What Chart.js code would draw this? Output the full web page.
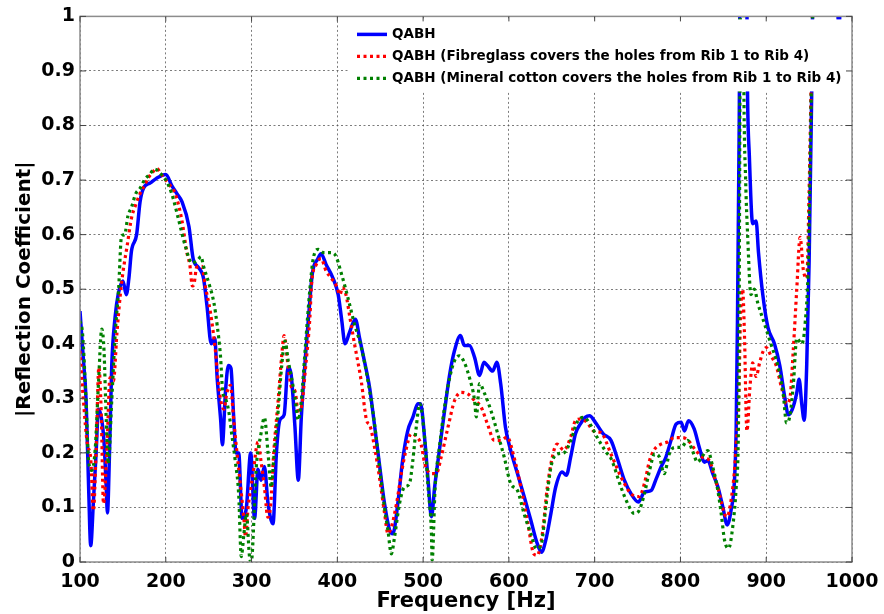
<!DOCTYPE html>
<html>
<head>
<meta charset="utf-8">
<script src="https://cdn.jsdelivr.net/npm/chart.js@4.4.1/dist/chart.umd.min.js"></script>
<style>
  html, body { margin: 0; padding: 0; background: #fff; }
  #wrap { width: 884px; height: 614px; }
</style>
</head>
<body>
<div id="wrap"><canvas id="grafico" width="884" height="614"></canvas></div>
<script>
// frequency ticks and reflection coefficient ticks
const xTicks = [100, 200, 300, 400, 500, 600, 700, 800, 900, 1000];
const yTicks = [0, 0.1, 0.2, 0.3, 0.4, 0.5, 0.6, 0.7, 0.8, 0.9, 1];

const etiquetas = [
  'QABH',
  'QABH (Fibreglass covers the holes from Rib 1 to Rib 4)',
  'QABH (Mineral cotton covers the holes from Rib 1 to Rib 4)'
];

// QABH (solid blue)
const qabhFreq = [100, 104, 107, 110, 112.5, 115.6, 118.8, 121.5, 125.4, 128, 130.5, 132, 134.4, 137, 141, 144.5, 150, 154, 157, 160, 166, 170, 174, 182, 189, 200, 207, 213, 219, 227, 232, 238, 244, 248, 253, 257, 260, 264, 266, 269.5, 273, 276, 279, 282, 285, 289, 294, 299, 303.5, 307.5, 311, 315, 319, 325, 329, 333, 338, 342.5, 346, 350.5, 354.5, 358, 363, 366, 371, 377, 381, 387, 395, 401, 405, 409, 414, 421, 426, 432, 437.6, 443.4, 449, 455, 461, 464.7, 470.5, 476, 482, 488, 494, 497, 502, 505.8, 509.7, 513.5, 519, 525, 531, 536.7, 543.6, 548, 554, 560, 565.8, 571, 575, 581, 586, 590.5, 596, 602, 610, 617.8, 625.5, 633, 638, 643, 649, 654.5, 662, 667, 672, 677.6, 683.4, 689, 694, 700.8, 710, 719, 727, 734.6, 742.4, 751, 758, 765.8, 771.6, 777.4, 783, 789, 795, 800.8, 804.7, 809.3, 816, 822, 828, 831.9, 837.7, 843.6, 849.4, 854.5, 859, 863, 865, 866.5, 868.5, 870.5, 876, 878.2, 880.3, 884.2, 888.2, 891, 896, 902, 909.6, 915.8, 921.8, 925.7, 930.4, 935.6, 938.3, 941.4, 944.3, 947.2, 950, 953.4, 956, 975, 985, 990, 1000];
const qabhVal = [0.46, 0.37, 0.30, 0.14, 0.03, 0.11, 0.20, 0.28, 0.26, 0.22, 0.14, 0.09, 0.20, 0.36, 0.45, 0.49, 0.515, 0.49, 0.52, 0.57, 0.60, 0.66, 0.685, 0.695, 0.703, 0.71, 0.69, 0.675, 0.66, 0.615, 0.555, 0.54, 0.52, 0.47, 0.40, 0.41, 0.335, 0.26, 0.215, 0.31, 0.36, 0.355, 0.27, 0.20, 0.20, 0.08, 0.10, 0.20, 0.08, 0.17, 0.15, 0.175, 0.11, 0.07, 0.20, 0.26, 0.27, 0.357, 0.345, 0.25, 0.15, 0.265, 0.38, 0.44, 0.53, 0.555, 0.565, 0.545, 0.52, 0.49, 0.445, 0.40, 0.42, 0.445, 0.41, 0.365, 0.32, 0.25, 0.18, 0.107, 0.058, 0.052, 0.107, 0.185, 0.24, 0.265, 0.29, 0.29, 0.223, 0.15, 0.083, 0.138, 0.205, 0.277, 0.344, 0.388, 0.415, 0.397, 0.397, 0.375, 0.342, 0.366, 0.36, 0.35, 0.366, 0.326, 0.247, 0.205, 0.162, 0.12, 0.077, 0.034, 0.018, 0.04, 0.089, 0.137, 0.165, 0.159, 0.192, 0.235, 0.253, 0.265, 0.268, 0.256, 0.235, 0.223, 0.187, 0.15, 0.125, 0.11, 0.128, 0.131, 0.152, 0.174, 0.192, 0.223, 0.253, 0.256, 0.24, 0.259, 0.244, 0.21, 0.183, 0.186, 0.162, 0.138, 0.101, 0.068, 0.095, 0.15, 0.248, 0.445, 0.8, 1.3, 1.3, 0.86, 0.745, 0.62, 0.625, 0.567, 0.49, 0.43, 0.40, 0.36, 0.30, 0.27, 0.28, 0.31, 0.335, 0.29, 0.26, 0.36, 0.55, 0.9, 1.3, 1.4, 0.98, 1.4, 1.5];

// Fibreglass (red dotted)
const fibraFreq = [100, 104, 108.6, 112.5, 115.6, 118.8, 122, 124.7, 127.4, 131.3, 135, 139, 143, 147, 150, 155, 160, 165, 170, 175, 180, 185, 189.5, 195, 200, 205, 211, 218.7, 224.6, 228, 231, 233, 236, 242, 246, 252, 258, 260, 263.7, 267.6, 271.5, 275.4, 279, 283, 287, 291, 293, 296, 301.6, 307.5, 311, 315, 319, 322, 326, 331, 335, 338, 342.7, 346.6, 350.5, 354.5, 358, 363, 368, 370, 375.6, 381, 387, 393, 399, 403, 406, 410, 415, 420, 428, 434, 438, 444, 449.6, 455, 459, 463, 469, 474.6, 480, 486, 492, 497.7, 502, 509.7, 515.4, 521, 529, 536.7, 544.4, 552, 560, 567.6, 575, 583, 590.5, 598, 606, 614, 621.6, 629, 633, 639, 644.8, 650.6, 656, 664, 672, 677.6, 683.4, 691, 699, 707.4, 719, 730.7, 742.4, 752, 758, 764, 770, 777.4, 785, 793, 802.7, 810.5, 818, 826, 833.8, 839.6, 845.5, 851, 854.5, 859, 863, 865, 868, 870, 872.5, 874.5, 877.5, 881, 884.2, 888.2, 892.3, 896.1, 900, 905.8, 911.6, 917.8, 923.7, 927.6, 931.6, 935.6, 939.5, 943.3, 947.2, 950, 952.6, 956, 1000];
const fibraVal = [0.387, 0.296, 0.216, 0.19, 0.094, 0.204, 0.357, 0.277, 0.107, 0.204, 0.338, 0.332, 0.418, 0.49, 0.53, 0.58, 0.63, 0.655, 0.675, 0.69, 0.705, 0.715, 0.721, 0.71, 0.70, 0.69, 0.675, 0.627, 0.567, 0.545, 0.506, 0.51, 0.54, 0.542, 0.506, 0.458, 0.385, 0.35, 0.30, 0.28, 0.312, 0.324, 0.264, 0.20, 0.142, 0.08, 0.046, 0.10, 0.16, 0.22, 0.185, 0.137, 0.082, 0.10, 0.204, 0.296, 0.375, 0.415, 0.357, 0.32, 0.314, 0.277, 0.283, 0.357, 0.448, 0.51, 0.546, 0.556, 0.533, 0.52, 0.506, 0.49, 0.503, 0.49, 0.445, 0.40, 0.33, 0.26, 0.25, 0.205, 0.15, 0.09, 0.052, 0.064, 0.107, 0.162, 0.205, 0.235, 0.23, 0.215, 0.18, 0.162, 0.162, 0.192, 0.247, 0.296, 0.311, 0.308, 0.296, 0.284, 0.253, 0.223, 0.223, 0.229, 0.192, 0.137, 0.076, 0.015, 0.012, 0.052, 0.137, 0.192, 0.216, 0.205, 0.229, 0.259, 0.262, 0.256, 0.24, 0.237, 0.198, 0.156, 0.125, 0.12, 0.144, 0.186, 0.207, 0.216, 0.22, 0.228, 0.228, 0.22, 0.204, 0.192, 0.186, 0.156, 0.125, 0.089, 0.083, 0.113, 0.168, 0.217, 0.3, 0.45, 0.5, 0.424, 0.24, 0.32, 0.365, 0.34, 0.365, 0.385, 0.393, 0.377, 0.36, 0.32, 0.29, 0.30, 0.39, 0.5, 0.595, 0.535, 0.52, 0.68, 0.9, 1.2, 1.5];

// Mineral cotton (green dotted)
const mineralFreq = [100, 103, 107, 110, 113.7, 117.6, 121.5, 125.4, 128, 130.5, 133, 137, 141, 145, 148.4, 152, 156, 160, 165, 170, 175, 181, 187, 195, 200, 207, 215, 222.6, 230.5, 238, 241, 244, 250, 256, 260, 263.7, 266.4, 269.5, 273.4, 277, 281, 285, 288, 291, 294, 297.6, 299.6, 305.5, 311, 315, 319, 323, 326, 331, 335, 339, 342.7, 346.6, 350.5, 354.5, 358, 363, 368, 372, 378, 384, 391.5, 397, 405, 412.4, 420, 428, 435.7, 443.4, 449.2, 455, 459, 463, 466.7, 472.5, 478, 484, 488, 492, 496, 502, 505.8, 509.7, 510.5, 514, 519, 525, 531, 536.7, 542.5, 548, 554, 560, 562, 565.8, 571.6, 579, 587, 594.6, 602, 610, 617.8, 625.5, 632.4, 638, 643, 649, 656.6, 664, 672, 679.5, 687, 694.6, 702.7, 714, 719, 730.7, 738.5, 746, 752, 758, 764, 770, 775.6, 781, 787, 793, 800.8, 808.5, 814, 820, 826, 831.9, 837.7, 843.6, 847.5, 851.4, 856, 861, 865, 868, 869, 870.5, 872.5, 874, 876, 878.3, 882.2, 886.2, 890.1, 898.1, 905.8, 913.5, 919.7, 923.7, 927.6, 931.6, 935.6, 941.4, 945.3, 949.1, 953, 957, 1000];
const mineralVal = [0.442, 0.418, 0.296, 0.186, 0.168, 0.204, 0.326, 0.427, 0.387, 0.265, 0.18, 0.296, 0.418, 0.50, 0.597, 0.60, 0.635, 0.65, 0.675, 0.685, 0.70, 0.71, 0.72, 0.71, 0.70, 0.675, 0.627, 0.58, 0.548, 0.555, 0.56, 0.542, 0.512, 0.476, 0.433, 0.379, 0.312, 0.30, 0.276, 0.233, 0.185, 0.124, 0.01, 0.05, 0.088, 0.01, 0.0, 0.174, 0.235, 0.265, 0.204, 0.137, 0.192, 0.277, 0.357, 0.405, 0.369, 0.338, 0.302, 0.26, 0.296, 0.40, 0.50, 0.557, 0.573, 0.567, 0.567, 0.564, 0.527, 0.484, 0.436, 0.393, 0.332, 0.253, 0.174, 0.10, 0.058, 0.015, 0.046, 0.107, 0.137, 0.143, 0.186, 0.247, 0.29, 0.223, 0.137, 0.052, 0.003, 0.137, 0.21, 0.284, 0.338, 0.369, 0.378, 0.366, 0.338, 0.296, 0.266, 0.327, 0.309, 0.278, 0.235, 0.192, 0.144, 0.131, 0.088, 0.052, 0.024, 0.034, 0.10, 0.174, 0.198, 0.20, 0.222, 0.256, 0.265, 0.253, 0.229, 0.20, 0.19, 0.137, 0.107, 0.089, 0.095, 0.125, 0.168, 0.198, 0.192, 0.162, 0.198, 0.21, 0.21, 0.223, 0.204, 0.183, 0.195, 0.204, 0.174, 0.131, 0.089, 0.04, 0.025, 0.065, 0.137, 0.3, 0.7, 1.3, 1.3, 0.86, 0.7, 0.6, 0.49, 0.50, 0.475, 0.436, 0.398, 0.36, 0.31, 0.255, 0.268, 0.325, 0.41, 0.40, 0.436, 0.55, 0.9, 1.2, 1.5];

const aPuntos = (xs, ys) => xs.map((x, i) => ({ x, y: ys[i] }));

const fuente = 'DejaVu Sans';

// legend drawn inside the axes, on top of the curves (like the original)
const leyendaPlugin = {
  id: 'leyendaInterna',
  afterDatasetsDraw(chart) {
    const { ctx, chartArea } = chart;
    ctx.save();
    ctx.fillStyle = '#fff';
    ctx.fillRect(349, chartArea.top + 3, chartArea.right - 349, 72);
    chart.data.datasets.forEach((ds, i) => {
      const y = chartArea.top + 18 + i * 22;
      ctx.beginPath();
      ctx.strokeStyle = ds.borderColor;
      ctx.lineWidth = ds.borderWidth;
      ctx.setLineDash(ds.borderDash || []);
      ctx.moveTo(357, y);
      ctx.lineTo(387, y);
      ctx.stroke();
      ctx.setLineDash([]);
      ctx.fillStyle = '#000';
      ctx.font = 'bold 13.5px "' + fuente + '"';
      ctx.textBaseline = 'middle';
      ctx.fillText(ds.label, 392, y);
    });
    ctx.restore();
  }
};

// box around axes with inward tick marks (matlab style)
const cajaPlugin = {
  id: 'cajaEjes',
  afterDraw(chart) {
    const { ctx, chartArea: a, scales } = chart;
    ctx.save();
    ctx.strokeStyle = '#8c8c8c';
    ctx.lineWidth = 1.5;
    ctx.strokeRect(a.left, a.top, a.right - a.left, a.bottom - a.top);
    ctx.strokeStyle = '#444';
    ctx.lineWidth = 1;
    ctx.beginPath();
    scales.x.ticks.forEach(t => {
      const px = scales.x.getPixelForValue(t.value);
      ctx.moveTo(px, a.top); ctx.lineTo(px, a.top + 5);
      ctx.moveTo(px, a.bottom); ctx.lineTo(px, a.bottom - 5);
    });
    scales.y.ticks.forEach(t => {
      const py = scales.y.getPixelForValue(t.value);
      ctx.moveTo(a.right, py); ctx.lineTo(a.right - 6, py);
      ctx.moveTo(a.left, py); ctx.lineTo(a.left + 6, py);
    });
    ctx.stroke();
    ctx.restore();
  }
};

const ctx = document.getElementById('grafico').getContext('2d');
new Chart(ctx, {
  type: 'line',
  data: {
    datasets: [
      {
        label: etiquetas[0],
        data: aPuntos(qabhFreq, qabhVal),
        borderColor: '#0000ff',
        borderWidth: 3.5,
        order: 3
      },
      {
        label: etiquetas[1],
        data: aPuntos(fibraFreq, fibraVal),
        borderColor: '#ff0000',
        borderWidth: 3.2,
        borderDash: [3, 3.5],
        order: 2
      },
      {
        label: etiquetas[2],
        data: aPuntos(mineralFreq, mineralVal),
        borderColor: '#008000',
        borderWidth: 3.2,
        borderDash: [3, 3.5],
        order: 1
      }
    ]
  },
  options: {
    responsive: false,
    animation: false,
    devicePixelRatio: 1,
    layout: { padding: { top: 15, right: 32, left: 0, bottom: 0 } },
    elements: {
      point: { radius: 0 },
      line: { cubicInterpolationMode: 'monotone', borderCapStyle: 'butt', fill: false }
    },
    plugins: {
      legend: { display: false },
      tooltip: { enabled: false }
    },
    scales: {
      x: {
        type: 'linear',
        min: 100,
        max: 1000,
        afterBuildTicks: s => { s.ticks = xTicks.map(v => ({ value: v })); },
        afterFit: s => { s.height = 52; s.paddingRight = 0; s.paddingLeft = 0; },
        grid: { color: 'rgba(80,80,80,0.75)', lineWidth: 1, drawTicks: false },
        border: { display: false, dash: [2, 2.5] },
        ticks: {
          padding: 9,
          color: '#000',
          font: { family: fuente, size: 19, weight: 'bold' },
          maxRotation: 0,
          callback: v => String(v)
        },
        title: {
          display: true,
          text: 'Frequency [Hz]',
          color: '#000',
          font: { family: fuente, size: 21, weight: 'bold' },
          padding: { top: 0, bottom: 0 }
        }
      },
      y: {
        min: 0,
        max: 1,
        afterBuildTicks: s => { s.ticks = yTicks.map(v => ({ value: v })); },
        afterFit: s => { s.width = 80; },
        grid: { color: 'rgba(80,80,80,0.75)', lineWidth: 1, drawTicks: false },
        border: { display: false, dash: [2, 2.5] },
        ticks: {
          padding: 5,
          color: '#000',
          font: { family: fuente, size: 19, weight: 'bold' },
          callback: v => String(Math.round(v * 10) / 10)
        },
        title: {
          display: true,
          text: '|Reflection Coefficient|',
          color: '#000',
          font: { family: fuente, size: 20, weight: 'bold' },
          padding: { top: 13, bottom: 0 }
        }
      }
    }
  },
  plugins: [leyendaPlugin, cajaPlugin]
});
</script>
</body>
</html>
